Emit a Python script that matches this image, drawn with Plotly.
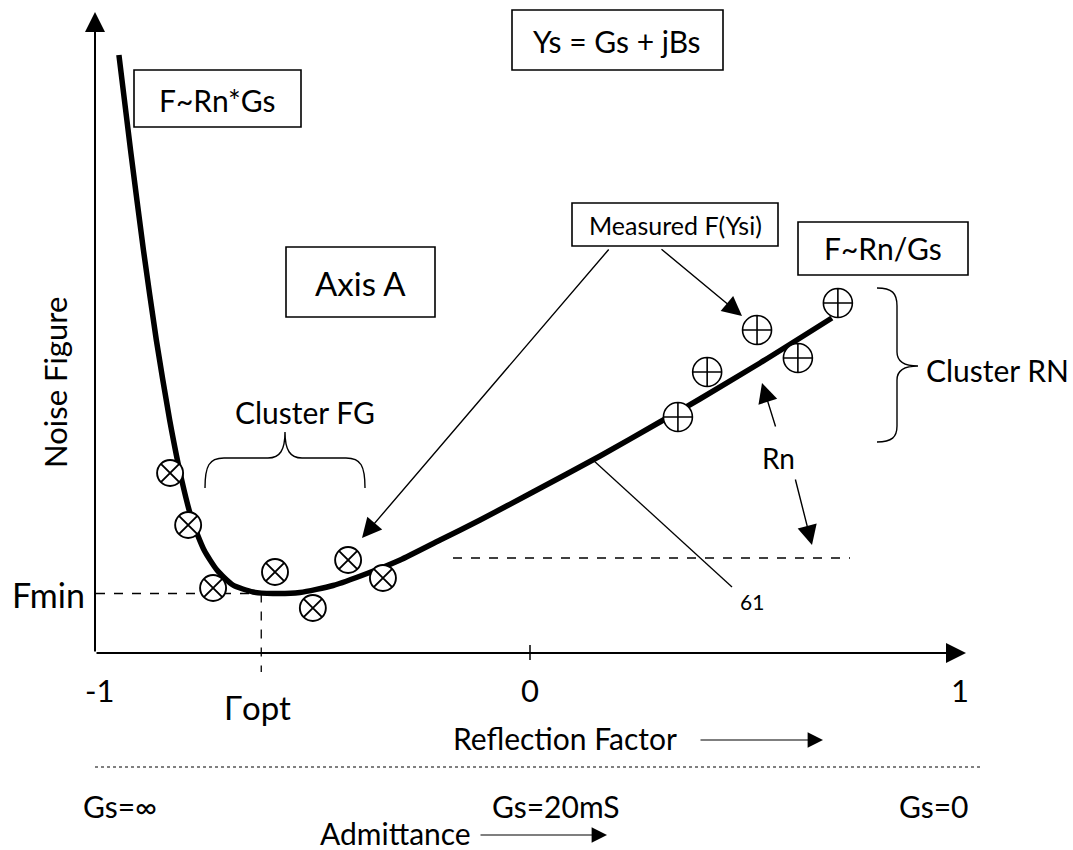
import plotly.graph_objects as go

# ---------------- data (reflection factor vs. noise figure, arbitrary units) ----------------
curve_x = [-0.956, -0.929, -0.899, -0.869, -0.838, -0.810, -0.786, -0.758, -0.728, -0.691,
           -0.644, -0.598, -0.535, -0.458, -0.379, -0.302, -0.209, -0.116, 0.007, 0.163,
           0.302, 0.395, 0.535, 0.702]
curve_y = [5.97, 5.02, 4.02, 3.12, 2.32, 1.72, 1.32, 1.02, 0.82, 0.67,
           0.60, 0.585, 0.595, 0.665, 0.785, 0.92, 1.12, 1.32, 1.60, 1.96,
           2.30, 2.53, 2.89, 3.34]

fg_x = [-0.837, -0.795, -0.737, -0.593, -0.505, -0.423, -0.342]   # Cluster FG measurements
fg_y = [1.79, 1.27, 0.64, 0.80, 0.44, 0.92, 0.74]

rn_x = [0.344, 0.412, 0.528, 0.623, 0.716]                         # Cluster RN measurements
rn_y = [2.35, 2.80, 3.22, 2.94, 3.49]

tick_vals = [-1, 0, 1]
tick_text = ["-1", "0", "1"]
gs_labels = ["Gs=∞", "Gs=20mS", "Gs=0"]

gamma_opt = -0.625
f_min = 0.585

# ---------------- layout helpers ----------------
W, H = 1073, 850
X0, XS = 530.0, 430.0      # pixel of x=0, pixels per unit
Y0, YS = 652.0, 100.0      # pixel of y=0, pixels per unit
FONT = "Lato, Carlito, Calibri, sans-serif"


def px(x):
    return x / W


def py(y):
    return 1 - y / H


def P(x, y):
    return f"{px(x):.5f},{py(y):.5f}"


def dx2pix(v):
    return X0 + XS * v


def dy2pix(v):
    return Y0 - YS * v


fig = go.Figure()

fig.add_trace(go.Scatter(x=curve_x, y=curve_y, mode="lines",
                         line=dict(color="black", width=5.5, shape="spline", smoothing=0.6),
                         hoverinfo="skip"))
fig.add_trace(go.Scatter(x=fg_x, y=fg_y, mode="markers",
                         marker=dict(symbol="circle-x", size=26, color="white",
                                     line=dict(color="black", width=1.9)),
                         hoverinfo="skip"))
fig.add_trace(go.Scatter(x=rn_x, y=rn_y, mode="markers",
                         marker=dict(symbol="circle-cross", size=29, color="white",
                                     line=dict(color="black", width=1.6)),
                         hoverinfo="skip"))

shapes = []
annotations = []


def line(x0, y0, x1, y1, width=1.5, dash="solid"):
    shapes.append(dict(type="line", xref="paper", yref="paper",
                       x0=px(x0), y0=py(y0), x1=px(x1), y1=py(y1),
                       line=dict(color="black", width=width, dash=dash), layer="below"))


def box(x0, y0, x1, y1):
    shapes.append(dict(type="rect", xref="paper", yref="paper",
                       x0=px(x0), y0=py(y0), x1=px(x1), y1=py(y1),
                       line=dict(color="black", width=1.6), fillcolor="rgba(0,0,0,0)"))


def text(x, y, s, size, angle=0, xanchor="center"):
    annotations.append(dict(x=px(x), y=py(y), xref="paper", yref="paper", text=s,
                            showarrow=False, textangle=angle, xanchor=xanchor, yanchor="middle",
                            font=dict(family=FONT, size=size, color="black")))


def arrow(hx, hy, tx, ty, width=1.4, size=2.8):
    annotations.append(dict(x=px(hx), y=py(hy), xref="paper", yref="paper",
                            ax=tx - hx, ay=ty - hy, axref="pixel", ayref="pixel",
                            text="", showarrow=True, arrowhead=2, arrowsize=size,
                            arrowwidth=width, arrowcolor="black", standoff=0))


# axes with arrow heads
arrow(95, 12, 95, 653, width=2, size=2.0)
arrow(966, 653, 95, 653, width=2, size=2.0)
# tick at 0
line(dx2pix(0), 645, dx2pix(0), 660, width=1.5)

# Fmin / Gamma opt dashed guides
line(96, dy2pix(f_min), dx2pix(gamma_opt), dy2pix(f_min), width=1.3, dash="dash")
line(dx2pix(gamma_opt), dy2pix(f_min), dx2pix(gamma_opt), 672, width=1.3, dash="dash")

# Rn reference dashed line
line(453, 558, 850, 558, width=1.5, dash="dash")

# separator
line(95, 767, 980, 767, width=1, dash="dot")

# leader for 61
line(593, 460, 732, 587, width=1.3)

# braces
shapes.append(dict(type="path", xref="paper", yref="paper", layer="below",
                   path=(f"M{P(205,488)} C{P(205,466)} {P(209,458)} {P(224,458)} L{P(268,458)} "
                         f"C{P(280,458)} {P(285,450)} {P(285,432)} C{P(285,450)} {P(290,458)} {P(302,458)} "
                         f"L{P(346,458)} C{P(361,458)} {P(365,466)} {P(365,488)}"),
                   line=dict(color="black", width=1.4)))
shapes.append(dict(type="path", xref="paper", yref="paper", layer="below",
                   path=(f"M{P(877,288)} C{P(892,288)} {P(897,293)} {P(897,306)} L{P(897,352)} "
                         f"C{P(897,361)} {P(903,366)} {P(918,366)} C{P(903,366)} {P(897,371)} {P(897,380)} "
                         f"L{P(897,426)} C{P(897,437)} {P(892,442)} {P(877,442)}"),
                   line=dict(color="black", width=1.4)))

# boxes
box(134, 70, 301, 127)
box(512, 10, 723, 70)
box(286, 247, 435, 317)
box(572, 203, 778, 246)
box(798, 222, 968, 275)

text(217, 100, "F~Rn*Gs", 30)
text(617, 41, "Ys = Gs + jBs", 30)
text(360, 283, "Axis A", 33)
text(675, 225, "Measured F(Ysi)", 25)
text(883, 248, "F~Rn/Gs", 30)

# pointer arrows
arrow(362, 538, 610, 248)
arrow(742, 316, 660, 248)
arrow(762, 383, 776, 428)
arrow(812, 545, 795, 478)

# axis texts
text(55, 383, "Noise Figure", 31, angle=-90)
text(48, 594, "Fmin", 34)
for v, t in zip(tick_vals, tick_text):
    annotations.append(dict(x=v, y=(Y0 - 690) / YS, xref="x", yref="y", text=t, showarrow=False,
                            font=dict(family=FONT, size=31, color="black")))
text(dx2pix(gamma_opt) - 4, 707, "Γopt", 33)
text(565, 738, "Reflection Factor", 30)
arrow(823, 740, 699, 740, width=1.1, size=2.8)
for xpix, s in zip([120, 556, 934], gs_labels):
    text(xpix, 806, s, 30)
text(395, 833, "Admittance", 30)
arrow(607, 835, 479, 835, width=1.1, size=2.8)

text(305, 412, "Cluster FG", 30)
text(997, 370, "Cluster RN", 30)
text(778, 458, "Rn", 28)
text(752, 601, "61", 21)

fig.update_layout(
    width=W, height=H, autosize=False,
    margin=dict(l=0, r=0, t=0, b=0),
    paper_bgcolor="white", plot_bgcolor="white",
    showlegend=False,
    xaxis=dict(range=[(0 - X0) / XS, (W - X0) / XS], visible=False, fixedrange=True),
    yaxis=dict(range=[(Y0 - H) / YS, Y0 / YS], visible=False, fixedrange=True),
    shapes=shapes, annotations=annotations,
)

fig.write_html("out.html")
